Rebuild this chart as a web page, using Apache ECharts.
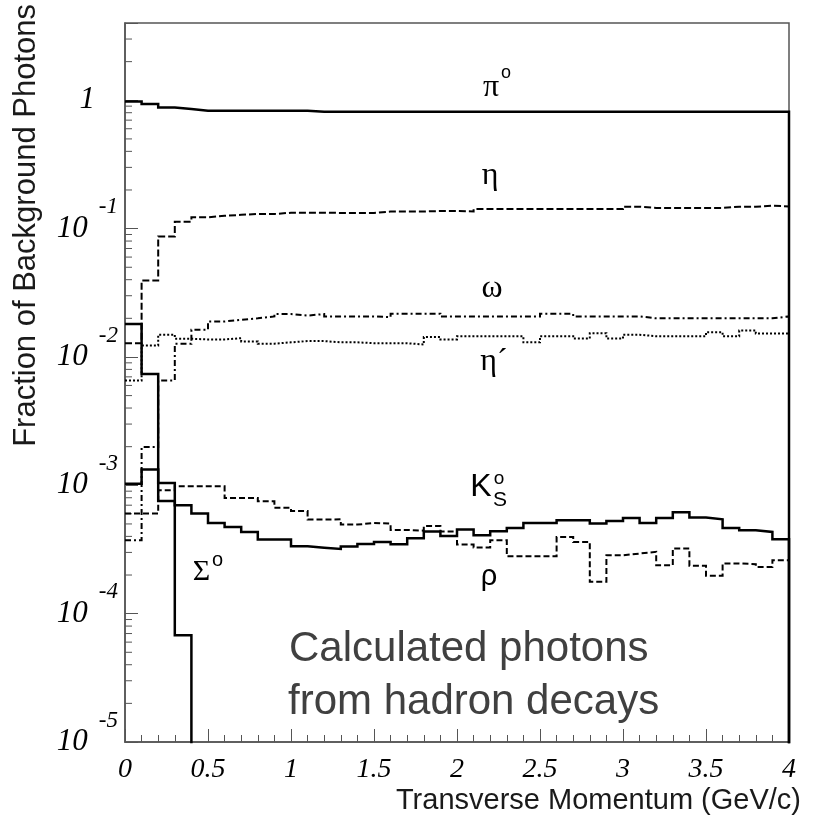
<!DOCTYPE html>
<html><head><meta charset="utf-8">
<script src="https://cdn.jsdelivr.net/npm/echarts@6/dist/echarts.min.js"></script>
<style>html,body{margin:0;padding:0;background:#fff}#c{width:829px;height:816px}</style>
</head><body><div id="c"></div>
<script>
// bin edges in transverse momentum (GeV/c)
const ptEdges = [0,0.1,0.2,0.3,0.4,0.5,0.6,0.7,0.8,0.9,1.0,1.1,1.2,1.3,1.4,1.5,1.6,1.7,1.8,1.9,2.0,
  2.1,2.2,2.3,2.4,2.5,2.6,2.7,2.8,2.9,3.0,3.1,3.2,3.3,3.4,3.5,3.6,3.7,3.8,3.9,4.0];

const pi0 = [0.979,0.934,0.879,0.854,0.829,0.829,0.829,0.829,0.829,0.829,
  0.829,0.814,0.814,0.814,0.814,0.814,0.814,0.814,0.814,0.814,
  0.814,0.814,0.814,0.814,0.814,0.814,0.814,0.814,0.814,0.814,
  0.814,0.814,0.814,0.814,0.814,0.814,0.814,0.814,0.814,0.814];

const eta = [0.0128,0.0394,0.087,0.113,0.1225,0.126,0.128,0.130,0.130,0.133,
  0.133,0.133,0.1325,0.1325,0.1325,0.136,0.136,0.136,0.137,0.137,
  0.136,0.142,0.142,0.142,0.142,0.142,0.142,0.142,0.142,0.142,
  0.148,0.145,0.145,0.145,0.145,0.145,0.148,0.148,0.151,0.149];

const omega = [0.000373,0.00199,0.00656,0.01267,0.0163,0.0189,0.0195,0.0200,0.0207,0.0216,
  0.0210,0.0216,0.0207,0.0207,0.0207,0.0204,0.0217,0.0217,0.0217,0.0207,
  0.0207,0.0207,0.0207,0.0207,0.0207,0.0217,0.0217,0.0207,0.0207,0.0207,
  0.0207,0.0200,0.0200,0.0200,0.0200,0.0200,0.0200,0.0200,0.0200,0.0207];

const etaPrime = [0.00655,0.0123,0.0149,0.01386,0.0137,0.0137,0.0140,0.0132,0.0127,0.0130,
  0.0133,0.0133,0.0130,0.0130,0.0128,0.0128,0.0128,0.0125,0.0143,0.0137,
  0.0145,0.0145,0.0145,0.0145,0.0130,0.0145,0.0145,0.0139,0.0153,0.0139,
  0.0149,0.0145,0.0145,0.0145,0.0145,0.0156,0.0145,0.0161,0.0152,0.0152];

const kShort = [0.00103,0.001325,0.000755,0.000699,0.000602,0.000509,0.000474,0.000433,0.000378,0.000378,
  0.000335,0.000326,0.000319,0.000333,0.000349,0.000362,0.000347,0.000387,0.000436,0.000402,
  0.000452,0.000408,0.000438,0.000465,0.000509,0.000509,0.000534,0.000534,0.000503,0.000527,
  0.000557,0.000509,0.000557,0.000616,0.000561,0.000543,0.000465,0.000447,0.000433,0.00038];

const rho = [0.000602,0.000602,0.000914,0.000982,0.000982,0.000982,0.000796,0.000796,0.00075,0.00067,
  0.000631,0.000541,0.000543,0.000494,0.000509,0.000503,0.000449,0.000443,0.000482,0.000437,
  0.000346,0.000328,0.000373,0.00028,0.00028,0.00028,0.000396,0.000362,0.000177,0.000285,
  0.000294,0.000303,0.000238,0.000322,0.000236,0.000197,0.000246,0.000243,0.000231,0.000261];

const sigma0 = [0.0181,0.00735,0.00104,0.000068,0,0,0,0,0,0,
  0,0,0,0,0,0,0,0,0,0,
  0,0,0,0,0,0,0,0,0,0,
  0,0,0,0,0,0,0,0,0,0];

const yMin = 1e-5, yMax = 4;
const minorMultipliers = [2,3,4,5,6,7,8,9];
const decades = [-5,-4,-3,-2,-1,0];

// empty bins (zero) are drawn below the visible log range and clipped
const FLOOR = 1e-9;
function hist(vals){
  const d = [];
  for (let i = 0; i < vals.length; i++) d.push([ptEdges[i], vals[i] > 0 ? vals[i] : FLOOR]);
  d.push([ptEdges[vals.length], FLOOR]);
  return d;
}
function histSeries(name, vals, width, type){
  return {name, type:'line', step:'end', data: hist(vals), symbol:'none', showSymbol:false,
    clip:true, animation:false, z:3,
    lineStyle:{color:'#000', width, type, cap:'butt', join:'miter'}};
}
const yMinorTicks = [];
decades.forEach(e => minorMultipliers.forEach(m => { const v = m*Math.pow(10,e); if (v < yMax) yMinorTicks.push([0, v]); }));

const SERIF = 'Liberation Serif', SANS = 'Liberation Sans';
function ann(text, x, y, font, size, extra){
  return {type:'text', x, y, silent:true, z:10,
    style:Object.assign({text, fontFamily:font, fontSize:size, fill:'#000', align:'center', verticalAlign:'middle'}, extra||{})};
}

const chart = echarts.init(document.getElementById('c'), null, {renderer:'canvas'});
chart.setOption({
  animation:false,
  backgroundColor:'#fff',
  grid:{left:125, right:40, top:23, bottom:74, show:true, borderColor:'#555', borderWidth:1.5, backgroundColor:'transparent'},
  xAxis:{type:'value', min:0, max:4, interval:0.5,
    axisLine:{show:true, lineStyle:{color:'#555', width:1.5}},
    axisTick:{show:true, inside:true, length:13, lineStyle:{color:'#555', width:1}},
    minorTick:{show:true, splitNumber:5, length:7, lineStyle:{color:'#555', width:1}},
    splitLine:{show:false}, minorSplitLine:{show:false},
    axisLabel:{fontFamily:SERIF, fontStyle:'italic', fontSize:28, lineHeight:28, color:'#000', margin:14,
      showMinLabel:true, showMaxLabel:true}
  },
  yAxis:[{type:'log', logBase:10, min:yMin, max:yMax,
    axisLine:{show:true, lineStyle:{color:'#555', width:1.5}},
    axisTick:{show:true, inside:true, length:13, lineStyle:{color:'#555', width:1}},
    splitLine:{show:false},
    axisLabel:{margin:7, color:'#000',
      formatter:function(v){
        const l = Math.log10(v), e = Math.round(l);
        if (Math.abs(l - e) > 1e-6) return '';
        if (e === 0) return '{one|1}';
        return '{b|10}{s|' + e + '}';
      },
      rich:{
        b:{fontFamily:SERIF, fontStyle:'italic', fontSize:31, lineHeight:31, color:'#000'},
        s:{fontFamily:SERIF, fontStyle:'italic', fontSize:23, lineHeight:23, color:'#000', padding:[0,0,43,11]},
        one:{fontFamily:SERIF, fontStyle:'italic', fontSize:31, lineHeight:31, color:'#000', padding:[0,23,0,0]}
      }
    }
  }],
  series:[
    histSeries('π0', pi0, 2.5, 'solid'),
    histSeries('η', eta, 2, [7,3]),
    histSeries('ω', omega, 2, [6,3,2,3]),
    histSeries("η'", etaPrime, 2, [2,2]),
    histSeries('K0S', kShort, 2.5, 'solid'),
    histSeries('ρ', rho, 2, [6,3]),
    histSeries('Σ0', sigma0, 2.5, 'solid'),
    {type:'custom', silent:true, clip:false, z:2, data:yMinorTicks,
      renderItem:function(params, api){
        const p = api.coord([0, api.value(1)]);
        return {type:'line', shape:{x1:p[0], y1:p[1], x2:p[0]+7, y2:p[1]}, style:{stroke:'#555', lineWidth:1}};
      }}
  ],
  graphic:[
    ann('π', 491, 88, SERIF, 32),
    ann('o', 506, 73, SANS, 18),
    ann('η', 490, 176, SERIF, 32),
    ann('ω', 492, 289, SERIF, 32),
    ann('η´', 494, 362, SERIF, 32),
    ann('K', 481, 487, SANS, 32),
    ann('o', 499, 478.5, SANS, 19),
    ann('S', 500, 500, SANS, 21),
    ann('Σ', 201.5, 572, SERIF, 30),
    ann('o', 217.5, 560, SANS, 20),
    ann('ρ', 489, 577, SANS, 29),
    ann('Calculated photons', 289, 649, SANS, 42, {align:'left', fill:'#404040'}),
    ann('from hadron decays', 288, 702, SANS, 42, {align:'left', fill:'#404040'}),
    {type:'text', x:26.5, y:4, rotation:Math.PI/2, silent:true,
      style:{text:'Fraction of Background Photons', fontFamily:SANS, fontSize:31, fill:'#1a1a1a', align:'right', verticalAlign:'middle'}},
    ann('Transverse Momentum (GeV/c)', 801, 801, SANS, 29, {align:'right', fill:'#1a1a1a'})
  ]
});
</script>
</body></html>
